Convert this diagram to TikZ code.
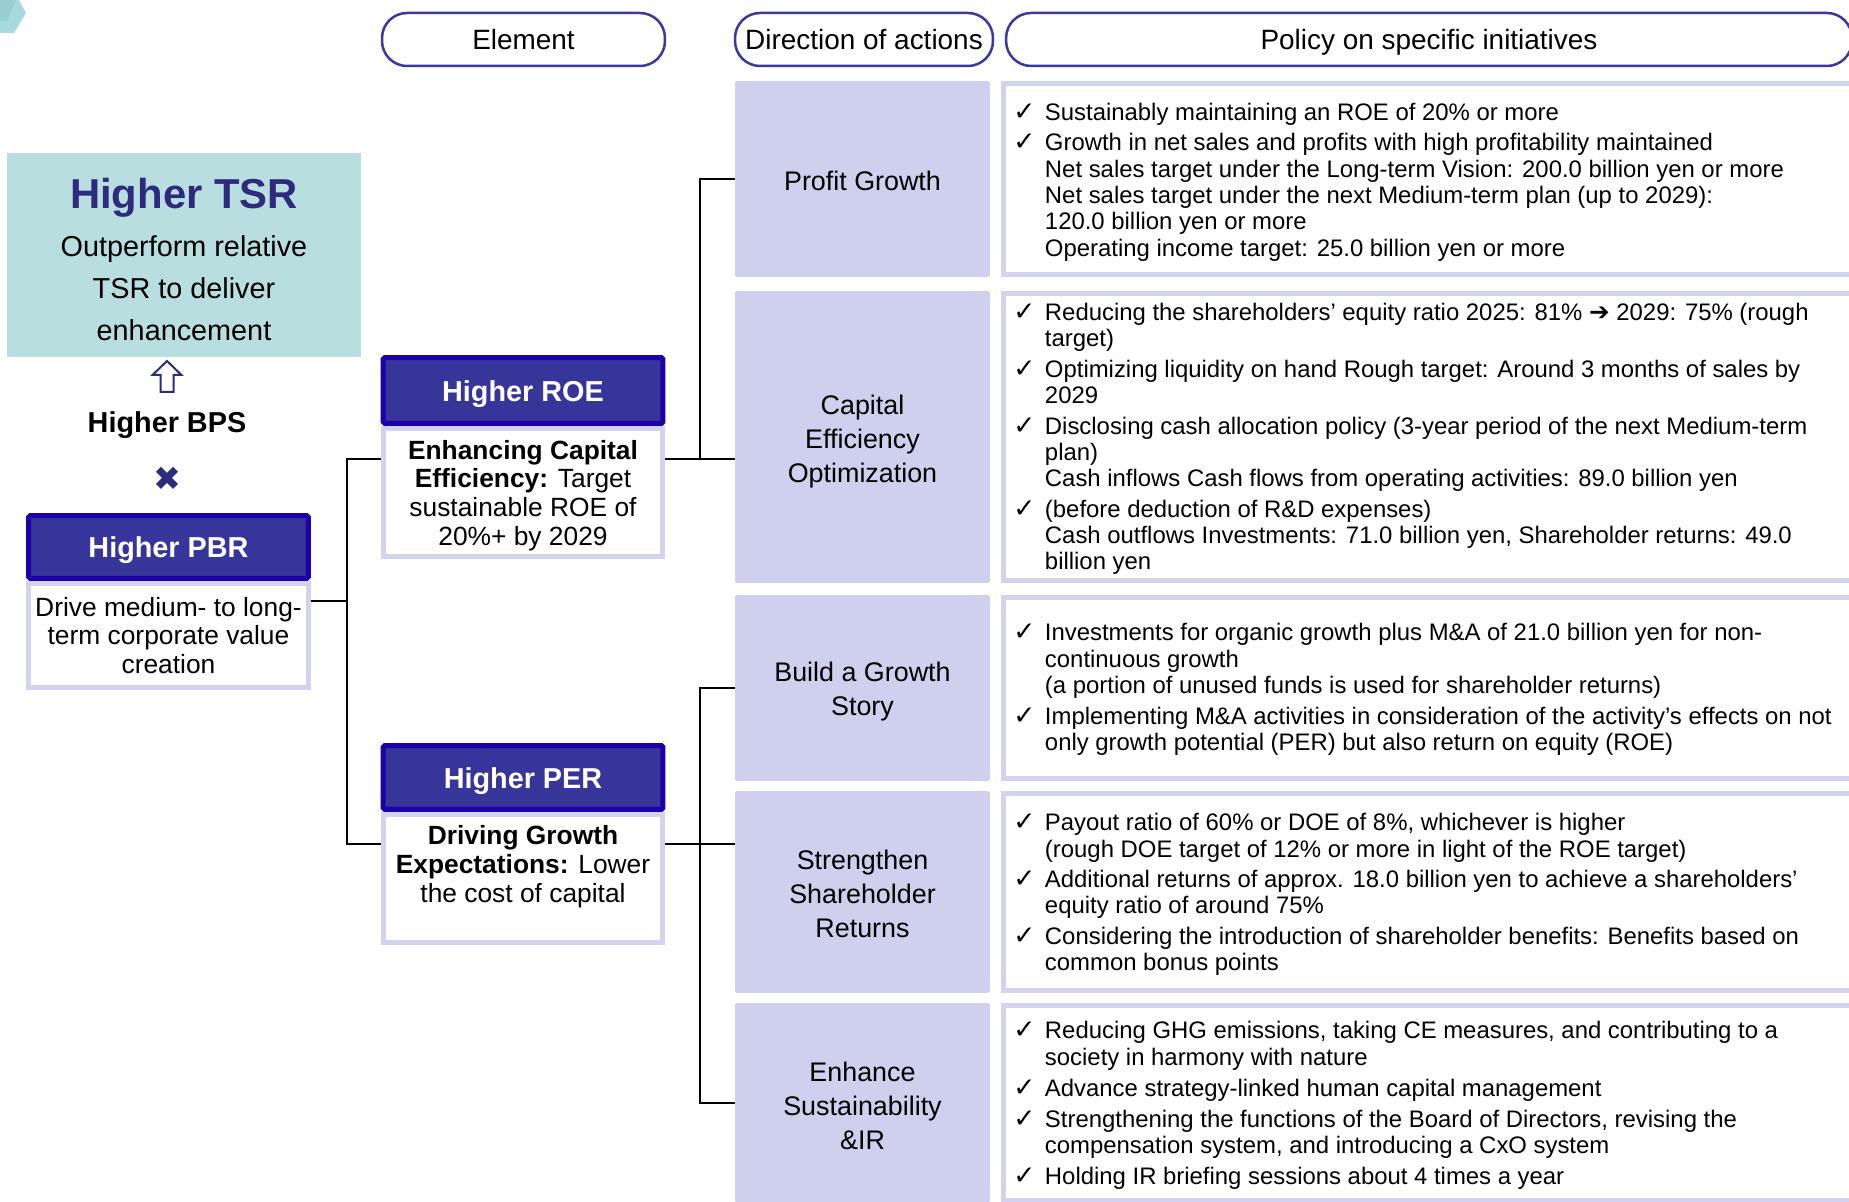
\documentclass[tikz,border=0pt]{standalone}
\usepackage{fontspec}
\setmainfont{Liberation Sans}
\newfontfamily\symfont{DejaVu Sans}
\usetikzlibrary{positioning,calc}

\definecolor{navyfill}{HTML}{37349A}
\definecolor{navyedge}{HTML}{1E00AA}
\definecolor{pillline}{HTML}{3A3A9E}
\definecolor{lav}{HTML}{D3D3F1}
\definecolor{dirfill}{HTML}{CFD0EE}
\definecolor{tsrfill}{HTML}{B8DEE0}
\definecolor{navytxt}{HTML}{2E2A7E}
\definecolor{hexA}{HTML}{A8DADD}
\definecolor{hexB}{HTML}{97CED3}

\newcommand{\ck}{\makebox[18pt][l]{\symfont\fontsize{15}{15}\selectfont ✓}}
\newcommand{\ind}{\hspace*{18pt}}
\newcommand{\rarr}{{\symfont\fontsize{14}{14}\selectfont ➔}}

\tikzset{
  pill/.style={draw=pillline, line width=0.05cm, fill=white, rounded corners=0.5cm,
    minimum height=1.06cm, inner sep=0pt, text height=15pt, text depth=3.2pt,
    font=\fontsize{15.9}{19}\selectfont},
  tsrbox/.style={fill=tsrfill, minimum width=7.08cm, minimum height=4.08cm, inner sep=0pt},
  headbox/.style={draw=navyedge, fill=navyfill, line width=0.1cm, rounded corners=1pt,
    minimum width=5.6cm, inner sep=0pt, text=white, text height=15.6pt, text depth=3.3pt,
    font=\fontsize{16.4}{19}\selectfont\bfseries},
  bodybox/.style={draw=lav, fill=white, line width=0.1cm, minimum width=5.6cm, inner sep=0pt},
  bodytext/.style={align=center, inner sep=0pt, font=\fontsize{15}{16.4}\selectfont},
  dirbox/.style={fill=dirfill, rounded corners=1pt, minimum width=5.1cm, inner sep=0pt},
  dirtext/.style={align=center, inner sep=0pt, font=\fontsize{15.3}{19.4}\selectfont},
  polbox/.style={draw=lav, fill=white, line width=0.1cm, minimum width=17.53cm, inner sep=0pt},
  poltext/.style={anchor=west, align=left, inner sep=0pt, font=\fontsize{13.6}{15}\selectfont},
  link/.style={line width=0.04cm, black},
}

\begin{document}
\begin{tikzpicture}[x=0.02cm,y=-0.02cm]
  \useasboundingbox (0,0) rectangle (1849,1202);
  \clip (0,0) rectangle (1849,1202);
  \fill[white] (0,0) rectangle (1849,1202);

  \fill[hexA] (0,0) -- (19,0) -- (26,13) -- (14,33) -- (0,33) -- cycle;
  \fill[hexB] (0,0) -- (16,0) -- (7,21) -- (0,21) -- cycle;

  \node[pill, minimum width=5.66cm] (hEl) at (523.5,39.5) {Element};
  \node[pill, minimum width=5.16cm] (hDir) at (864,39.5) {Direction of actions};
  \node[pill, minimum width=16.92cm] (hPol) at (1429,39.5) {Policy on specific initiatives};

  \node[tsrbox] (tsr) at (184,255) {};
  \node[text=navytxt, text height=22.6pt, text depth=4.8pt, font=\fontsize{23.8}{28}\selectfont\bfseries] (tsrT) at (184,193) {Higher TSR};
  \node[align=center, font=\fontsize{16.4}{23.8}\selectfont] (tsrS) at (184,288) {Outperform relative\\TSR to deliver\\enhancement};

  \draw[navytxt, line width=0.04cm, fill=white] (167,361) -- (181.5,375) -- (173.5,375) -- (173.5,392)
    -- (160.5,392) -- (160.5,375) -- (152.5,375) -- cycle;
  \node[text height=15.6pt, text depth=3.3pt, font=\fontsize{16.4}{19}\selectfont\bfseries] (bps) at (167,422) {Higher BPS};
  \node[text=navytxt, font=\symfont\fontsize{19}{19}\selectfont] (times) at (167,479) {✖};

  \node[bodybox, minimum height=2.08cm] (pbrB) at (168.5,635.5) {};
  \node[bodytext] (pbrT) at (168.5,635.5) {Drive medium- to long-\\term corporate value\\creation};
  \node[headbox, minimum height=1.26cm] (pbrH) at (168.5,547) {Higher PBR};

  \node[bodybox, minimum height=2.56cm] (roeB) at (523,492.5) {};
  \node[bodytext] (roeT) at (523,495.5) {\textbf{Enhancing Capital}\\\textbf{Efficiency:} Target\\sustainable ROE of\\20\%+ by 2029};
  \node[headbox, minimum height=1.32cm] (roeH) at (523,390.5) {Higher ROE};

  \node[bodybox, minimum height=2.56cm] (perB) at (523,878.5) {};
  \node[bodytext] (perT) at (523,866.5) {\textbf{Driving Growth}\\\textbf{Expectations:} Lower\\the cost of capital};
  \node[headbox, minimum height=1.28cm] (perH) at (523,777.5) {Higher PER};

  \node[dirbox, minimum height=3.92cm] (d1) at (862.5,179) {};
  \node[dirbox, minimum height=5.84cm] (d2) at (862.5,437) {};
  \node[dirbox, minimum height=3.72cm] (d3) at (862.5,688) {};
  \node[dirbox, minimum height=4.04cm] (d4) at (862.5,892) {};
  \node[dirbox, minimum height=4.0cm] (d5) at (862.5,1103) {};
  \node[dirtext] (d1t) at (862.5,180.5) {Profit Growth};
  \node[dirtext] (d2t) at (862.5,441.5) {Capital\\Efficiency\\Optimization};
  \node[dirtext] (d3t) at (862.5,691.5) {Build a Growth\\Story};
  \node[dirtext] (d4t) at (862.5,893.5) {Strengthen\\Shareholder\\Returns};
  \node[dirtext] (d5t) at (862.5,1105.5) {Enhance\\Sustainability\\\&IR};

  \node[polbox, minimum height=3.82cm] (p1) at (1441.75,179) {};
  \node[polbox, minimum height=5.74cm] (p2) at (1441.75,437) {};
  \node[polbox, minimum height=3.62cm] (p3) at (1441.75,688) {};
  \node[polbox, minimum height=3.94cm] (p4) at (1441.75,892) {};
  \node[polbox, minimum height=3.9cm] (p5) at (1441.75,1103) {};

  \node[poltext] (t1) at (1013,182) {\ck Sustainably maintaining an ROE of 20\% or more\\[2.3pt]
    \ck Growth in net sales and profits with high profitability maintained\\
    \ind Net sales target under the Long-term Vision: 200.0 billion yen or more\\
    \ind Net sales target under the next Medium-term plan (up to 2029):\\
    \ind 120.0 billion yen or more\\
    \ind Operating income target: 25.0 billion yen or more};
  \node[poltext] (t2) at (1013,439) {\ck Reducing the shareholders' equity ratio 2025: 81\% \rarr{} 2029: 75\% (rough\\
    \ind target)\\[2.3pt]
    \ck Optimizing liquidity on hand Rough target: Around 3 months of sales by\\
    \ind 2029\\[2.3pt]
    \ck Disclosing cash allocation policy (3-year period of the next Medium-term\\
    \ind plan)\\
    \ind Cash inflows Cash flows from operating activities: 89.0 billion yen\\[2.3pt]
    \ck (before deduction of R\&D expenses)\\
    \ind Cash outflows Investments: 71.0 billion yen, Shareholder returns: 49.0\\
    \ind billion yen};
  \node[poltext] (t3) at (1013,689.5) {\ck Investments for organic growth plus M\&A of 21.0 billion yen for non-\\
    \ind continuous growth\\
    \ind (a portion of unused funds is used for shareholder returns)\\[2.3pt]
    \ck Implementing M\&A activities in consideration of the activity's effects on not\\
    \ind only growth potential (PER) but also return on equity (ROE)};
  \node[poltext] (t4) at (1013,894.5) {\ck Payout ratio of 60\% or DOE of 8\%, whichever is higher\\
    \ind (rough DOE target of 12\% or more in light of the ROE target)\\[2.3pt]
    \ck Additional returns of approx. 18.0 billion yen to achieve a shareholders'\\
    \ind equity ratio of around 75\%\\[2.3pt]
    \ck Considering the introduction of shareholder benefits: Benefits based on\\
    \ind common bonus points};
  \node[poltext] (t5) at (1013,1105.5) {\ck Reducing GHG emissions, taking CE measures, and contributing to a\\
    \ind society in harmony with nature\\[2.6pt]
    \ck Advance strategy-linked human capital management\\[2.6pt]
    \ck Strengthening the functions of the Board of Directors, revising the\\
    \ind compensation system, and introducing a CxO system\\[2.6pt]
    \ck Holding IR briefing sessions about 4 times a year};

  \coordinate (k1) at (347,601);
  \coordinate (yroe) at (0,459);
  \coordinate (yper) at (0,844);
  \draw[link] (pbrB.east |- k1) -- (k1);
  \draw[link] (roeB.west |- yroe) -| (k1);
  \draw[link] (perB.west |- yper) -| (k1);

  \coordinate (k2) at (700,459);
  \draw[link] (roeB.east |- k2) -- (d2.west |- k2);
  \draw[link] (d1.west) -| (k2);

  \coordinate (k3) at (700,844);
  \draw[link] (perB.east |- k3) -- (d4.west |- k3);
  \draw[link] (d3.west) -| (k3);
  \draw[link] (d5.west) -| (k3);
\end{tikzpicture}
\end{document}
